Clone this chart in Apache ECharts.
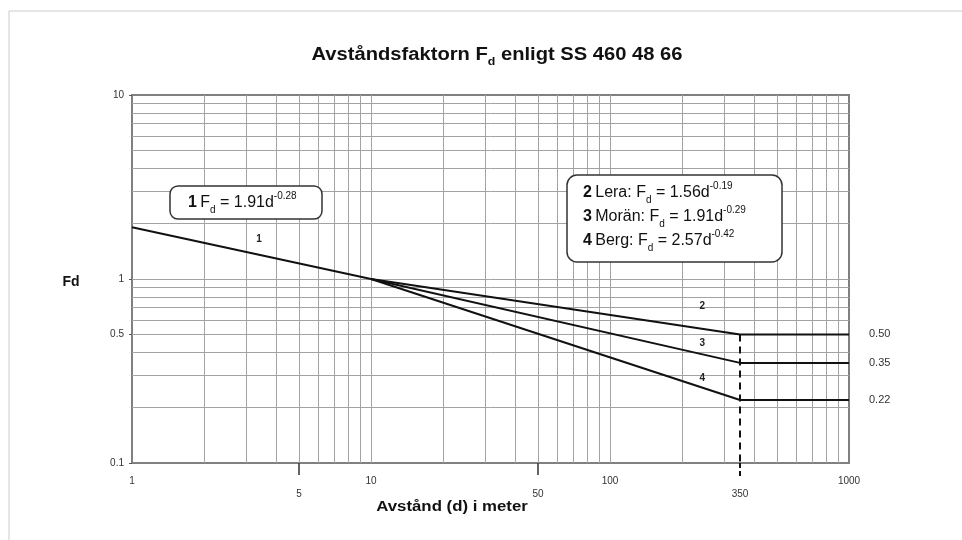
<!DOCTYPE html>
<html><head><meta charset="utf-8">
<script src="https://cdn.jsdelivr.net/npm/echarts@6/dist/echarts.min.js"></script>
<style>html,body{margin:0;padding:0;background:#fff}#c{width:962px;height:540px}</style>
</head><body><div id="c"></div>
<script>
const xLabelValues = [1, 5, 10, 50, 100, 350, 1000];
const xLowLabels = [5, 50, 350];
const xTickValues = [5, 50];
const xDashTick = [350];
const yLabelValues = [0.1, 0.5, 1, 10];
const xGridValues = [2,3,4,5,6,7,8,9,10,20,30,40,50,60,70,80,90,100,200,300,400,500,600,700,800,900];
const yGridValues = [0.2,0.3,0.4,0.5,0.6,0.7,0.8,0.9,1,2,3,4,5,6,7,8,9];
const curve1 = [[1, 1.91], [10, 1.0]];
const curve2 = [[10, 1.0], [350, 0.50], [1000, 0.50]];
const curve3 = [[10, 1.0], [350, 0.35], [1000, 0.35]];
const curve4 = [[10, 1.0], [350, 0.22], [1000, 0.22]];
const curveLabels = [{name: '1', coord: [3.4, 1.65]}, {name: '2', coord: [243, 0.715]}, {name: '3', coord: [243, 0.445]}, {name: '4', coord: [243, 0.29]}];
const dashLine = [[350, 0.5], [350, 0.1]];

const chart = echarts.init(document.getElementById('c'), null, {renderer: 'canvas'});
const FONT = 'Liberation Sans, Arial, sans-serif';
const lineStyleCurve = {color: '#111', width: 2};
const endLabel = {show: true, distance: 20, formatter: (q) => q.value[1].toFixed(2), fontSize: 11, color: '#333', fontFamily: FONT};

function boxRich(lh) {
  return {
    b: {fontSize: 16, fontWeight: 'bold', fontFamily: FONT, fill: '#111', lineHeight: lh},
    n: {fontSize: 16, fontFamily: FONT, fill: '#111', lineHeight: lh},
    s: {fontSize: 10, fontFamily: FONT, fill: '#111', verticalAlign: 'bottom', lineHeight: lh / 2 + 2},
    p: {fontSize: 10, fontFamily: FONT, fill: '#111', verticalAlign: 'top', lineHeight: lh / 2}
  };
}

const option = {
  animation: false,
  backgroundColor: '#fff',
  grid: {left: 132, right: 113, top: 95, bottom: 77, show: true, borderColor: '#808080', borderWidth: 2, containLabel: false},
  xAxis: [{
    type: 'log', min: 1, max: 1000, logBase: 10,
    axisLine: {show: false},
    splitLine: {show: false},
    axisTick: {show: true, customValues: xTickValues, length: 12, inside: false, lineStyle: {color: '#333', width: 1.5}},
    axisLabel: {
      customValues: xLabelValues, margin: 12, fontSize: 10, color: '#333', fontFamily: FONT, lineHeight: 13,
      formatter: (v) => { const r = Math.round(v); return xLowLabels.includes(r) ? '\n' + r : '' + r; }
    }
  }, {
    type: 'log', min: 1, max: 1000, logBase: 10, position: 'bottom',
    axisLine: {show: false}, splitLine: {show: false}, axisLabel: {show: false},
    axisTick: {show: true, customValues: xDashTick, length: 14, inside: false, lineStyle: {color: '#111', width: 2, type: [5, 3]}}
  }],
  yAxis: {
    type: 'log', min: 0.1, max: 10, logBase: 10,
    axisLine: {show: false},
    splitLine: {show: false},
    axisTick: {show: true, customValues: yLabelValues, length: 3, lineStyle: {color: '#555'}},
    axisLabel: {customValues: yLabelValues, margin: 8, fontSize: 10, color: '#333', fontFamily: FONT,
      formatter: (v) => '' + parseFloat(v.toPrecision(3))}
  },
  graphic: [
    {type: 'rect', shape: {x: 9, y: 11, width: 1000, height: 600}, style: {fill: 'none', stroke: '#ccc', lineWidth: 1}, silent: true, z: 0},
    {type: 'text', x: 497, y: 55, scaleX: 1.12, z: 10, style: {
      text: '{a|Avståndsfaktorn F}{s|d}{a| enligt SS 460 48 66}', align: 'center', verticalAlign: 'middle',
      rich: {
        a: {fontSize: 18, fontWeight: 'bold', fontFamily: FONT, fill: '#111', lineHeight: 24},
        s: {fontSize: 11, fontWeight: 'bold', fontFamily: FONT, fill: '#111', verticalAlign: 'bottom', lineHeight: 14}
      }}},
    {type: 'text', x: 452, y: 507, scaleX: 1.2, z: 10, style: {text: 'Avstånd (d) i meter', font: 'bold 14px ' + FONT, fill: '#111', align: 'center', verticalAlign: 'middle'}},
    {type: 'text', x: 71, y: 282, z: 10, style: {text: 'Fd', font: 'bold 14px ' + FONT, fill: '#111', align: 'center', verticalAlign: 'middle'}},
    {type: 'rect', shape: {x: 170, y: 186, width: 152, height: 33, r: 8}, style: {fill: '#fff', stroke: '#333', lineWidth: 1.5}, z: 20},
    {type: 'text', x: 188, y: 203, z: 21, style: {
      text: '{b|1} {n|F}{s|d}{n| = 1.91d}{p|-0.28}', verticalAlign: 'middle', rich: boxRich(24)}},
    {type: 'rect', shape: {x: 567, y: 175, width: 215, height: 87, r: 10}, style: {fill: '#fff', stroke: '#333', lineWidth: 1.5}, z: 20},
    {type: 'text', x: 583, y: 217, z: 21, style: {
      text: '{b|2} {n|Lera: F}{s|d}{n| = 1.56d}{p|-0.19}\n{b|3} {n|Morän: F}{s|d}{n| = 1.91d}{p|-0.29}\n{b|4} {n|Berg: F}{s|d}{n| = 2.57d}{p|-0.42}',
      verticalAlign: 'middle', rich: boxRich(24)}}
  ],
  series: [
    {type: 'line', data: [], silent: true, z: 1,
      markLine: {silent: true, symbol: 'none', label: {show: false}, animation: false,
        lineStyle: {color: '#a3a3a3', width: 1, type: 'solid'},
        data: xGridValues.map(v => ({xAxis: v})).concat(yGridValues.map(v => ({yAxis: v})))}},
    {type: 'line', data: curve1, symbol: 'none', lineStyle: lineStyleCurve, z: 5},
    {type: 'line', data: curve2, symbol: 'none', lineStyle: lineStyleCurve, z: 5, endLabel: endLabel,
      markLine: {silent: true, symbol: 'none', label: {show: false}, lineStyle: {color: '#111', width: 2, type: [7, 5]},
        data: [[{coord: dashLine[0]}, {coord: dashLine[1]}]]}},
    {type: 'line', data: curve3, symbol: 'none', lineStyle: lineStyleCurve, z: 5, endLabel: endLabel},
    {type: 'line', data: curve4, symbol: 'none', lineStyle: lineStyleCurve, z: 5, endLabel: endLabel,
      markPoint: {silent: true, symbol: 'circle', symbolSize: 0,
        label: {show: true, position: 'inside', formatter: (p) => p.name, fontSize: 10, fontWeight: 'bold', color: '#222', fontFamily: FONT},
        data: curveLabels}}
  ]
};
chart.setOption(option);
</script></body></html>
